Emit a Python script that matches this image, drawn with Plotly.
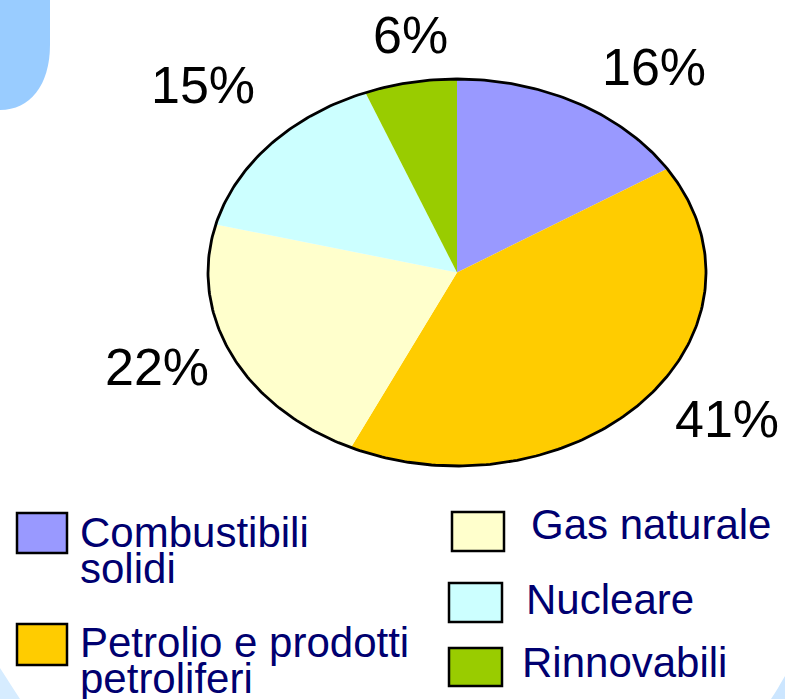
import numpy as np
import plotly.graph_objects as go

# ---------------- data ----------------
categories = ["Combustibili solidi", "Petrolio e prodotti petroliferi",
              "Gas naturale", "Nucleare", "Rinnovabili"]
values = [16, 41, 22, 15, 6]
colors = ["#9999FF", "#FFCC00", "#FFFFCC", "#CCFFFF", "#99CC00"]
pct_labels = [f"{v}%" for v in values]
legend_lines = [["Combustibili", "solidi"],
                ["Petrolio e prodotti", "petroliferi"],
                ["Gas naturale"], ["Nucleare"], ["Rinnovabili"]]

# ---------------- layout geometry (pixels) ----------------
W, H = 785, 699
CX, CY, RX, RY = 457, 272.5, 249, 193.5
label_pos = [(654, 85), (727, 437), (157, 385), (203, 103), (410, 53)]   # centre x, baseline y
legend_box = [(17, 513, 67, 553), (17, 624, 67, 665), (452, 512, 504, 551),
              (449, 583, 502, 622), (449, 648, 502, 686)]
legend_txt = [(78, 547), (78, 657), (529, 539), (524, 614), (520, 677)]
LINE_STEP = 36
PCT_SIZE = 52
LEG_SIZE = 42
FONT = "Liberation Sans, Arial, sans-serif"
TEXT_BLUE = "#000070"

fig = go.Figure()

# pie slices as elliptical wedges, clockwise from 12 o'clock
total = float(sum(values))
cum = np.concatenate([[0.0], np.cumsum(values) / total])
for i, cat in enumerate(categories):
    th = np.linspace(cum[i], cum[i + 1], 200) * 2 * np.pi
    xs = np.concatenate([[CX], CX + RX * np.sin(th), [CX]])
    ys = np.concatenate([[CY], CY - RY * np.cos(th), [CY]])
    fig.add_trace(go.Scatter(x=xs, y=ys, mode="lines", fill="toself",
                             fillcolor=colors[i], line=dict(width=0),
                             name=cat, hoverinfo="name", showlegend=False))

# outline
th = np.linspace(0, 2 * np.pi, 400)
fig.add_trace(go.Scatter(x=CX + RX * np.sin(th), y=CY - RY * np.cos(th),
                         mode="lines", line=dict(color="black", width=2.8),
                         hoverinfo="skip", showlegend=False))

annotations = []
for (x, yb), txt in zip(label_pos, pct_labels):
    annotations.append(dict(x=x, y=yb - 0.3465 * PCT_SIZE, text=txt, showarrow=False,
                            xanchor="center", yanchor="middle", xref="x", yref="y",
                            font=dict(family=FONT, size=PCT_SIZE, color="black")))

shapes = []
# background decorations
shapes.append(dict(type="path", xref="x", yref="y",
                   path="M 0 0 L 50 0 L 50 45 C 50 85 30 110 0 110 Z",
                   fillcolor="#99CCFF", line=dict(width=0), layer="below"))
shapes.append(dict(type="path", xref="x", yref="y",
                   path="M 0 668 C 8 680 14 690 20 699 L 0 699 Z",
                   fillcolor="#D6ECFF", line=dict(width=0), layer="below"))
shapes.append(dict(type="path", xref="x", yref="y",
                   path="M 785 676 C 780 684 776 692 771 699 L 785 699 Z",
                   fillcolor="#CCE6FF", line=dict(width=0), layer="below"))

for i, (box, (tx, ty), lines) in enumerate(zip(legend_box, legend_txt, legend_lines)):
    x0, y0, x1, y1 = box
    shapes.append(dict(type="rect", xref="x", yref="y", x0=x0, y0=y0, x1=x1, y1=y1,
                       fillcolor=colors[i], line=dict(color="black", width=2.5)))
    for j, ln in enumerate(lines):
        yb = ty + j * LINE_STEP
        annotations.append(dict(x=tx, y=yb - 0.3465 * LEG_SIZE, text=ln, showarrow=False,
                                xanchor="left", yanchor="middle", xref="x", yref="y",
                                font=dict(family=FONT, size=LEG_SIZE, color=TEXT_BLUE)))

fig.update_layout(
    width=W, height=H, margin=dict(l=0, r=0, t=0, b=0),
    paper_bgcolor="white", plot_bgcolor="white",
    xaxis=dict(range=[0, W], visible=False, fixedrange=True),
    yaxis=dict(range=[H, 0], visible=False, fixedrange=True),
    annotations=annotations, shapes=shapes, showlegend=False,
)

fig.write_html("out.html", config={"displayModeBar": False},
               post_script="document.body.style.margin='0px';document.body.style.overflow='hidden';")
